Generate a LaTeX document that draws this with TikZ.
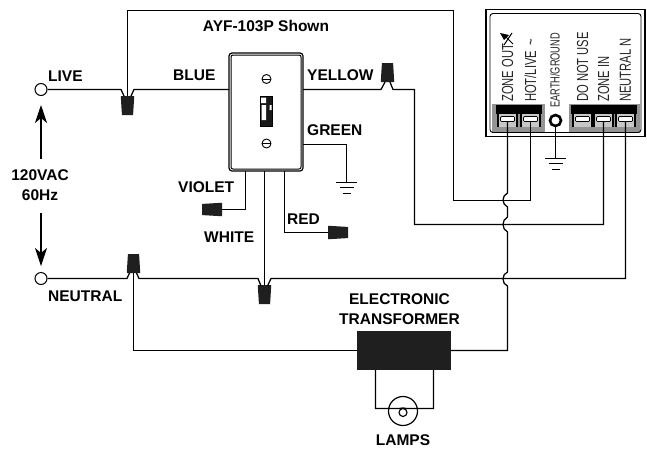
\documentclass[tikz,border=0pt]{standalone}
\usepackage{fontspec}
\setmainfont{Liberation Sans}
\newfontfamily\narrowfont[FakeStretch=0.7]{Liberation Sans}
\usetikzlibrary{shapes.geometric,arrows.meta}
\begin{document}
\begin{tikzpicture}[x=1pt,y=-1pt]
        \tikzstyle{wire}=[line width=1.25pt, line join=miter]
        \tikzstyle{wirelabel}=[inner sep=0pt, font=\bfseries\fontsize{15.5}{20}\selectfont]
        \tikzstyle{termlabel}=[inner sep=0pt, anchor=west, rotate=90, text=black!85, font=\narrowfont\fontsize{16}{16}\selectfont]
        \tikzstyle{wirenut}=[trapezium, fill=black!88, inner sep=.5pt, trapezium stretches=true, trapezium left angle=84, trapezium right angle=84, minimum width=13.5pt, minimum height=19pt]
        \tikzstyle{lug}=[rectangle, fill=black!22, inner sep=0pt, minimum width=18pt, minimum height=13pt]
        \tikzstyle{plug}=[rectangle, rounded corners=1pt, fill=white, draw=black, line width=.7pt, inner sep=0pt, minimum width=14pt, minimum height=5pt]
        \tikzstyle{screw}=[circle, draw, fill=white, line width=.9pt, inner sep=0pt, minimum size=9pt]
        \tikzstyle{source}=[circle, draw, fill=white, line width=1pt, inner sep=0pt, minimum size=12pt]
        \tikzstyle{voltarrow}=[line width=1.1pt, -{Stealth[length=18pt,width=12pt,inset=5pt]}]
        \useasboundingbox (0,0) rectangle (647,448);
        % terminal box
        \node[draw, line width=1.5pt, inner sep=0pt, minimum width=159pt, minimum height=127pt] (unit) at (565.5,73) {};
        \fill[black!42] (492,104) rectangle (545,133);
        \fill[black!42] (569,104) rectangle (640,133);
        \node[draw, rounded corners=3pt, line width=.9pt, inner sep=0pt, minimum width=151pt, minimum height=119pt] (unitin) at (565.5,73) {};
        \foreach \n/\x/\w in {zoneout/507.5/{ZONE OUT},hotlive/530.5/{HOT/LIVE\,\,\textasciitilde},donotuse/582.5/{DO NOT USE},zonein/603.5/{ZONE IN},neutraln/625.5/{NEUTRAL N}} {
            \node[termlabel] (text\n) at (\x,102) {\w};
            \node[fill=black, inner sep=0pt, minimum width=22.5pt, minimum height=9pt] (bar\n) at (\x,109.5) {};
            \node[lug] (lug\n) at (\x,120.5) {};
            \draw[line width=2pt] (lug\n.north west) -- (lug\n.south west) (lug\n.north east) -- (lug\n.south east);
            \node[plug] (\n) at (\x,119) {};
        }
        \node[termlabel, font=\narrowfont\fontsize{13.2}{14}\selectfont] (textearth) at (555,108) {EARTH/GROUND};
        \node[screw, minimum size=11pt, line width=2.6pt] (earth) at (555.5,120.5) {};
        \draw[line width=1pt] (503,34) -- (513,44) (512,33) -- (504,45);
        \fill (500,33) -- (509,35) -- (504,40) -- cycle;
        % switch
        \node[draw, rounded corners=3pt, line width=1.2pt, inner sep=0pt, minimum width=74pt, minimum height=118pt] (plate) at (266,112) {};
        \node[draw, rounded corners=2pt, line width=1pt, inner sep=0pt, minimum width=70pt, minimum height=114pt] (platein) at (266,112) {};
        \node[screw] (screwa) at (266.5,79) {};
        \node[screw] (screwb) at (266.5,143.5) {};
        \draw[line width=.9pt] (screwa.west) -- (screwa.east) (screwb.west) -- (screwb.east);
        \node[draw, fill=black!90, inner sep=0pt, minimum width=12pt, minimum height=30pt] (toggle) at (266.5,111) {};
        \fill[white] (261,97.5) rectangle (266,103) (261.5,105) rectangle (266,120) (269.5,105) rectangle (271.5,110);
        % lines and wire nuts
        \node[wirenut, shape border rotate=180] (nutlive) at (127.5,105.5) {};
        \node[wirenut] (nutyellow) at (387.5,72.5) {};
        \node[wirenut] (nutneutral) at (133.5,263.5) {};
        \node[wirenut, shape border rotate=180] (nutwhite) at (264.5,294.5) {};
        \node[wirenut, shape border rotate=90, minimum height=20pt] (nutviolet) at (212,209.5) {};
        \node[wirenut, shape border rotate=270, minimum height=20pt] (nutred) at (338,232.5) {};
        \node[source] (live) at (41,89.5) {};
        \node[source] (neutral) at (41,278.5) {};
        \draw[wire] (live) -- (121,89.5) -- (124,96);
        \draw[wire] (131,96) -- (134,89.5) -- (229,89.5);
        \draw[wire] (nutlive) -- (127.5,10.5) -- (453.5,10.5) -- (453.5,200.5) -- (530.5,200.5) -- (hotlive);
        \draw[wire] (303,89.5) -- (381,89.5) -- (385,82);
        \draw[wire] (390,82) -- (393,89.5) -- (414.5,89.5) -- (414.5,224.5) -- (603.5,224.5) -- (zonein);
        \draw[wire] (neutral) -- (127,278.5) -- (129.5,273);
        \draw[wire] (136.5,273) -- (139,278.5) -- (258,278.5) -- (261,286);
        \draw[wire] (267.5,286) -- (271,278.5) -- (625.5,278.5) -- (neutraln);
        \draw[wire] (264.5,171) -- (nutwhite);
        \draw[wire] (245.5,171) -- (245.5,209.5) -- (nutviolet);
        \draw[wire] (284.5,171) -- (284.5,232.5) -- (nutred);
        \draw[wire] (303,144.5) -- (346.5,144.5) -- (346.5,182.5) coordinate (gnda);
        \draw[wire] (earth) -- (555.5,158.5) coordinate (gndb);
        \foreach \g in {gnda,gndb} {
            \draw[line width=1.2pt] ([xshift=-10.5pt]\g) -- ([xshift=10.5pt]\g);
            \draw[line width=1.2pt] ([xshift=-7pt,yshift=-5pt]\g) -- ([xshift=7pt,yshift=-5pt]\g);
            \draw[line width=1.6pt] ([xshift=-4pt,yshift=-11pt]\g) -- ([xshift=4pt,yshift=-11pt]\g);
        }
        % transformer and lamp
        \node[fill=black!88, inner sep=0pt, minimum width=94pt, minimum height=39pt] (trafo) at (404,350.5) {};
        \draw[wire] (nutneutral) -- (133.5,350.5) -- (trafo.west);
        \draw[wire] (trafo.east) -- (507.5,350.5) -- (507.5,286) .. controls (501.5,284) and (501.5,274) .. (507.5,272)
            -- (507.5,232) .. controls (501.5,229) and (501.5,220) .. (507.5,217)
            -- (507.5,207) .. controls (501.5,204) and (501.5,196) .. (507.5,193) -- (zoneout);
        \node[draw, circle, line width=1.2pt, inner sep=0pt, minimum size=29pt] (lamp) at (403,411) {};
        \node[draw, circle, line width=1.1pt, inner sep=0pt, minimum size=8pt] (filament) at (403,412.5) {};
        \draw[wire] (375.5,370) -- (375.5,408.5) -- (399,408.5) -- (filament.north);
        \draw[wire] (433.5,370) -- (433.5,408.5) -- (407,408.5) -- (filament.north);
        % 120VAC arrows
        \node[wirelabel, align=center] (supply) at (40,185.5) {120VAC\\60Hz};
        \draw[voltarrow, shorten >=9pt] (41,159) -- (live);
        \draw[voltarrow, shorten >=6pt] (41,213) -- (neutral);
        % labels
        \node[wirelabel] (title) at (266,26) {AYF-103P Shown};
        \node[wirelabel, anchor=west] (lbllive) at (48,76.5) {LIVE};
        \node[wirelabel, anchor=west] (lblblue) at (173,75.5) {BLUE};
        \node[wirelabel, anchor=west] (lblyellow) at (307,75) {YELLOW};
        \node[wirelabel, anchor=west] (lblgreen) at (307,130) {GREEN};
        \node[wirelabel, anchor=west] (lblviolet) at (178,187) {VIOLET};
        \node[wirelabel, anchor=west] (lblred) at (287,219) {RED};
        \node[wirelabel, anchor=west] (lblwhite) at (204,237.5) {WHITE};
        \node[wirelabel, anchor=west] (lblneutral) at (48,296) {NEUTRAL};
        \node[wirelabel, align=center] (lbltrafo) at (399.5,309) {ELECTRONIC\\TRANSFORMER};
        \node[wirelabel] (lbllamps) at (403,440.5) {LAMPS};
      \end{tikzpicture}
\end{document}
